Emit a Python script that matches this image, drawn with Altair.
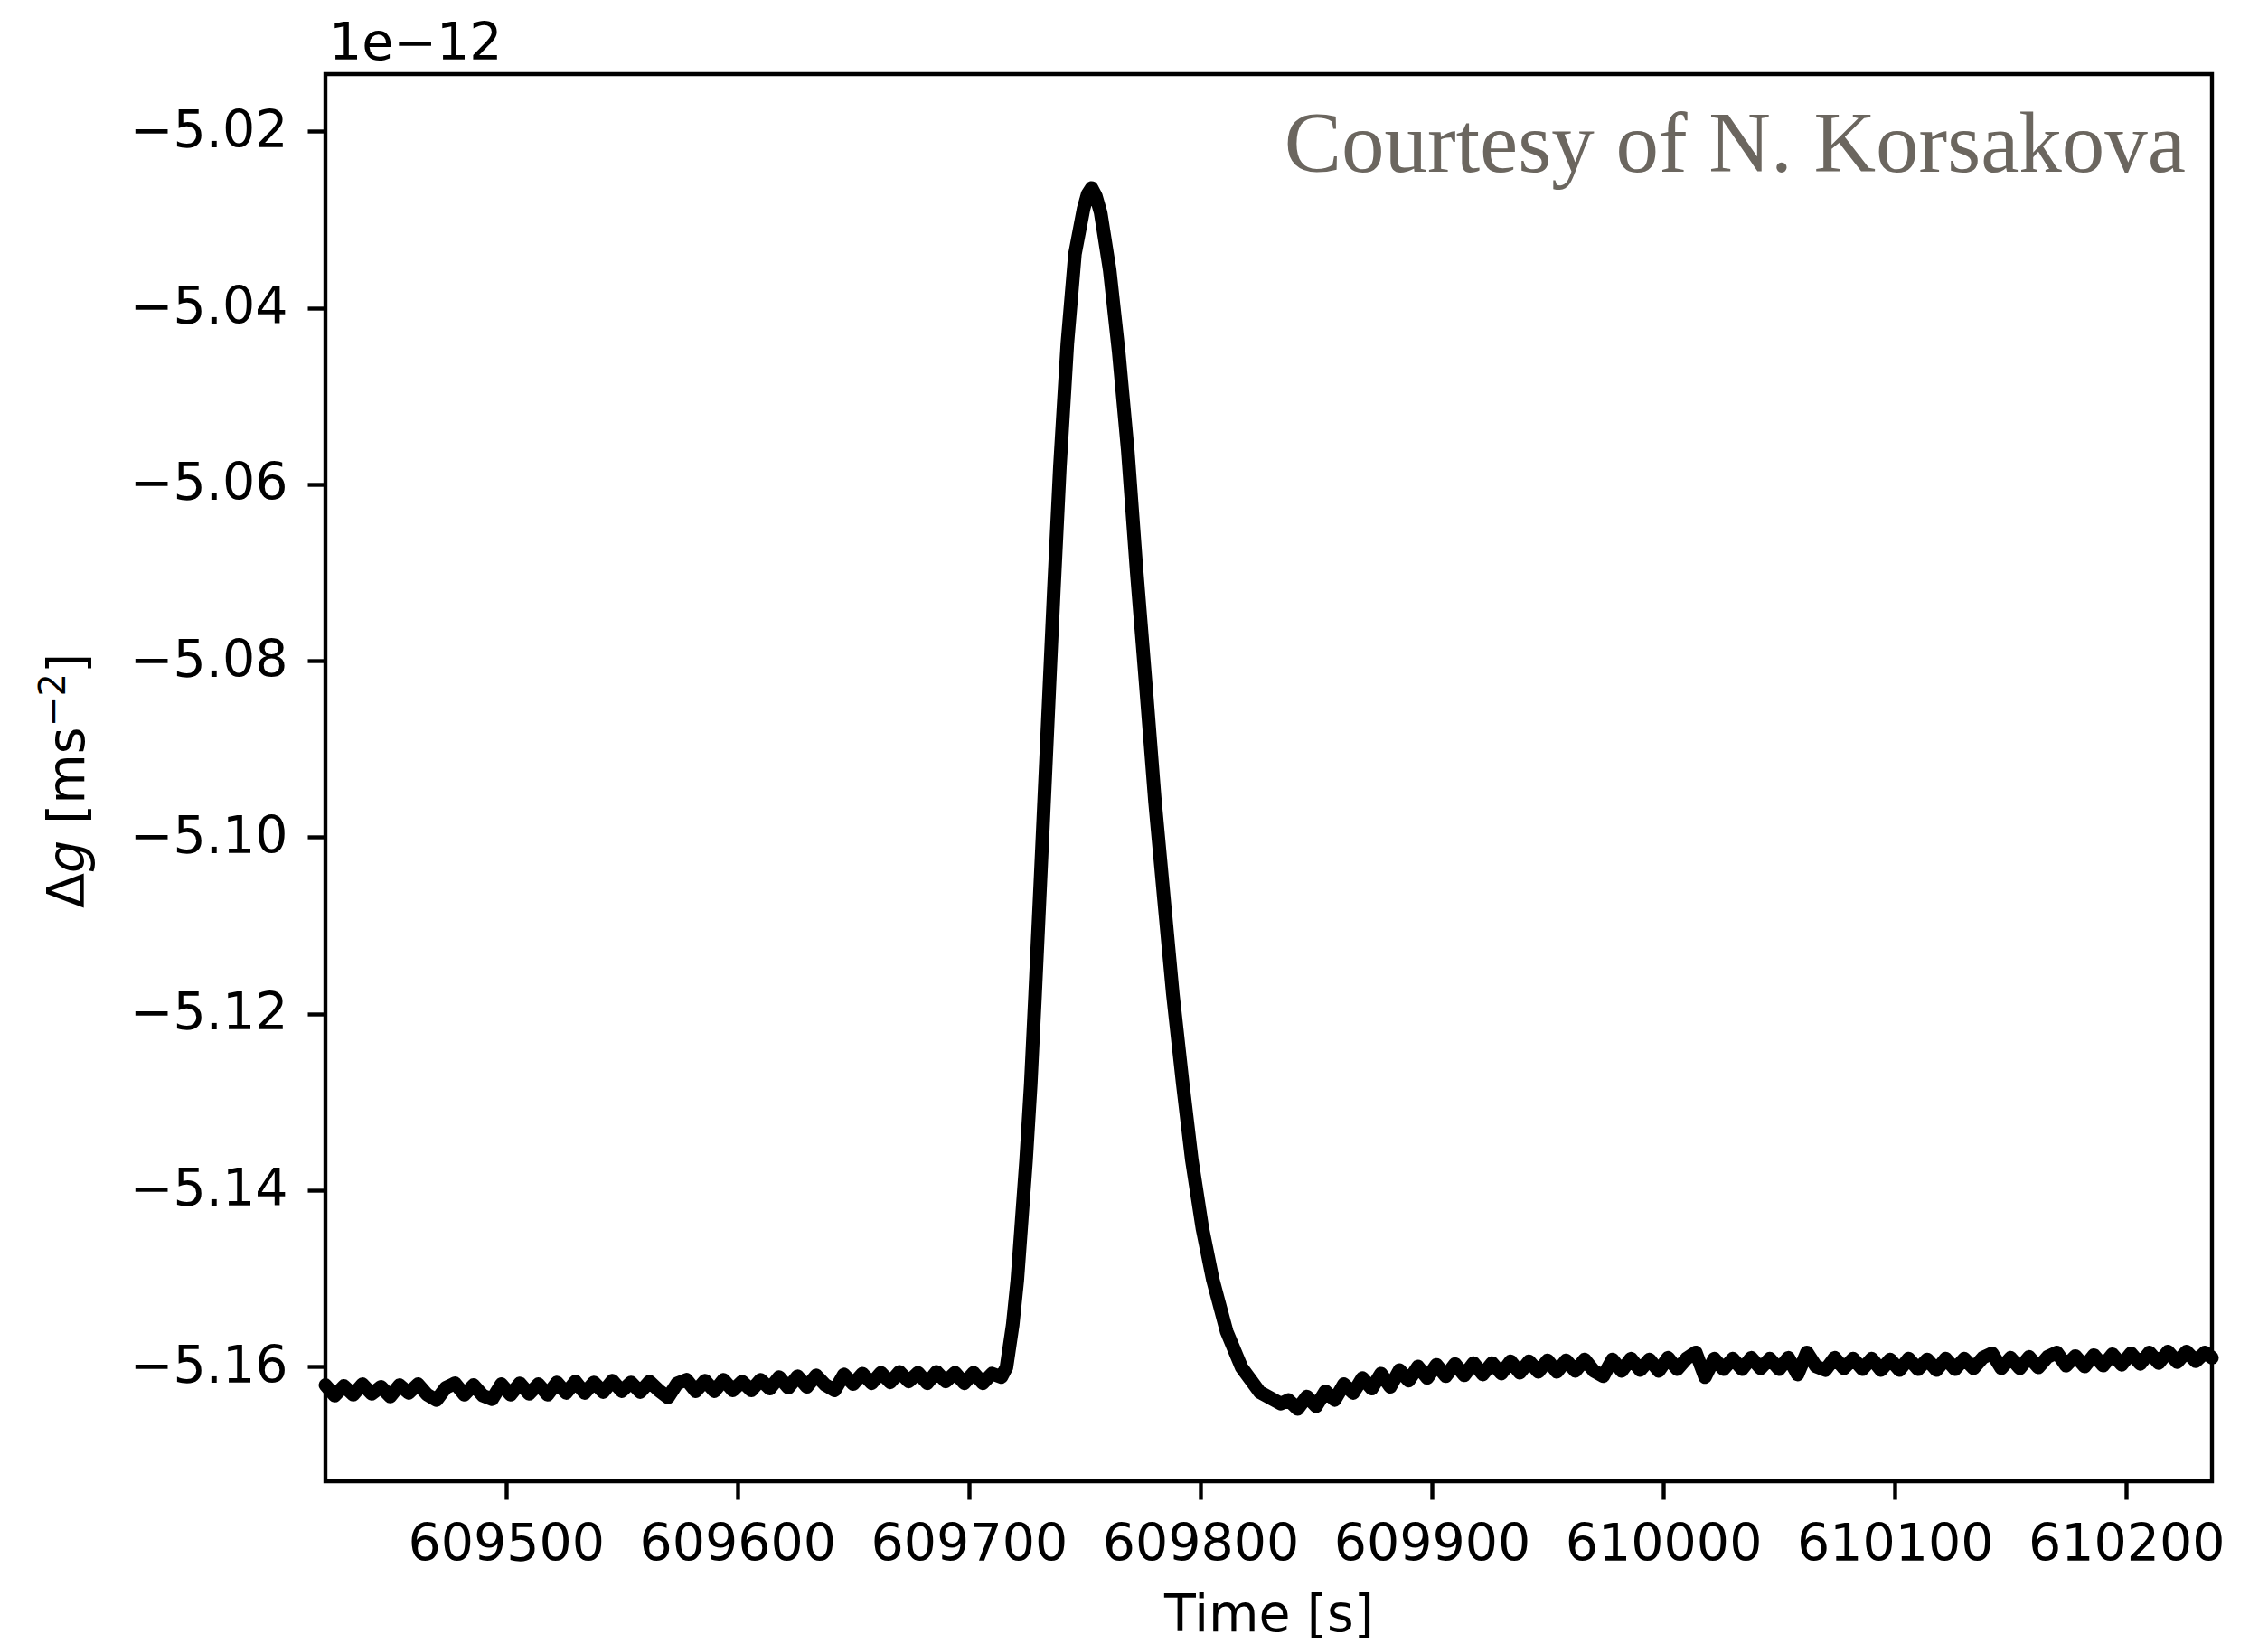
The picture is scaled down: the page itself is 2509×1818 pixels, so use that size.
import altair as alt
import pandas as pd

# ---- data (values in units of 1e-12 m s^-2) ----
# quiet baseline before the event, sampled every 4 s from 609422 s
left_start, left_step = 609422, 4
g_left = [
    -5.1621, -5.1633, -5.1622, -5.1632, -5.1620, -5.1631, -5.1623, -5.1634, -5.1621, -5.1630,
    -5.1620, -5.1632, -5.1638, -5.1624, -5.1619, -5.1632, -5.1621, -5.1633, -5.1637, -5.1620,
    -5.1632, -5.1619, -5.1631, -5.1620, -5.1632, -5.1618, -5.1630, -5.1617, -5.1630, -5.1618,
    -5.1629, -5.1616, -5.1628, -5.1618, -5.1629, -5.1617, -5.1627, -5.1635, -5.1619, -5.1615,
    -5.1628, -5.1616, -5.1628, -5.1615, -5.1627, -5.1617, -5.1627, -5.1615, -5.1625, -5.1612,
    -5.1624, -5.1611, -5.1623, -5.1610, -5.1621, -5.1627, -5.1609, -5.1620, -5.1608, -5.1619,
    -5.1607, -5.1618, -5.1606, -5.1617, -5.1607, -5.1619, -5.1606, -5.1617, -5.1607, -5.1619,
    -5.1607, -5.1619, -5.1608, -5.1612,
]

# the transient (peak) read point by point
t_peak = [609716.2, 609718.9, 609720.9, 609722.8, 609724.7, 609726.7, 609728.6, 609731.5,
          609734.1, 609736.7, 609739.3, 609742.5, 609745.8, 609749.5, 609751.3, 609753.0,
          609754.8, 609756.9, 609760.8, 609764.7, 609768.6, 609772.5, 609776.5, 609780.4,
          609784.3, 609788.1, 609792.4, 609796.3, 609800.9, 609805.4, 609811.3, 609817.8,
          609825.6, 609834.7]
g_peak = [-5.1601, -5.1553, -5.1502, -5.1434, -5.1366, -5.1280, -5.1178, -5.1015,
          -5.0867, -5.0719, -5.0580, -5.0441, -5.0339, -5.0288, -5.0271, -5.0264,
          -5.0273, -5.0292, -5.0357, -5.0450, -5.0561, -5.0700, -5.0830, -5.0960,
          -5.1071, -5.1178, -5.1280, -5.1366, -5.1444, -5.1502, -5.1560, -5.1601,
          -5.1629, -5.1642]

# recovery and baseline after the event, sampled every 4 s from 609838 s
right_start, right_step = 609838, 4
g_right = [
    -5.1638, -5.1648, -5.1634, -5.1645, -5.1628, -5.1638, -5.1620, -5.1630, -5.1613, -5.1625,
    -5.1608, -5.1623, -5.1604, -5.1616, -5.1600, -5.1613, -5.1598, -5.1611, -5.1597, -5.1610,
    -5.1596, -5.1609, -5.1596, -5.1608, -5.1594, -5.1607, -5.1594, -5.1606, -5.1593, -5.1606,
    -5.1593, -5.1605, -5.1592, -5.1605, -5.1611, -5.1592, -5.1605, -5.1591, -5.1604, -5.1592,
    -5.1605, -5.1590, -5.1603, -5.1591, -5.1584, -5.1612, -5.1591, -5.1603, -5.1591, -5.1603,
    -5.1590, -5.1602, -5.1591, -5.1603, -5.1590, -5.1609, -5.1584, -5.1600, -5.1604, -5.1590,
    -5.1602, -5.1591, -5.1603, -5.1591, -5.1604, -5.1592, -5.1604, -5.1591, -5.1603, -5.1592,
    -5.1604, -5.1591, -5.1603, -5.1591, -5.1602, -5.1590, -5.1585, -5.1602, -5.1590, -5.1602,
    -5.1589, -5.1601, -5.1589, -5.1584, -5.1599, -5.1588, -5.1600, -5.1587, -5.1599, -5.1586,
    -5.1598, -5.1585, -5.1597, -5.1584, -5.1596, -5.1583, -5.1595, -5.1583, -5.1594, -5.1584,
]
t_end, g_end = 610237, -5.1590

x_ticks = [609500, 609600, 609700, 609800, 609900, 610000, 610100, 610200]
y_ticks = [-5.16, -5.14, -5.12, -5.10, -5.08, -5.06, -5.04, -5.02]
x_domain = [609422, 610237]
y_domain = [-5.1730, -5.0135]

# y-axis title pieces: text, font size, italic?
ytitle_text = ["Δ", "g", "[ms", "−2", "]"]
ytitle_size = [57, 57, 57, 40, 57]
ytitle_style = ["normal", "italic", "normal", "normal", "normal"]

t_left = [left_start + left_step * i for i in range(len(g_left))]
t_right = [right_start + right_step * i for i in range(len(g_right))]
df = pd.DataFrame({
    "t": t_left + t_peak + t_right + [t_end],
    "g": g_left + g_peak + g_right + [g_end],
}).sort_values("t")

FONT = "DejaVu Sans"
FS = 57

line = alt.Chart(df).mark_line(
    color="black", strokeWidth=15, strokeJoin="round", strokeCap="round"
).encode(
    x=alt.X("t:Q",
            scale=alt.Scale(domain=x_domain, zero=False, nice=False),
            axis=alt.Axis(values=x_ticks, format="d", title="Time [s]",
                          labelPadding=22, labelFlush=False, labelOverlap=False,
                          labelLimit=0,
                          titleY=165, titleBaseline="alphabetic")),
    y=alt.Y("g:Q",
            scale=alt.Scale(domain=y_domain, zero=False, nice=False),
            axis=alt.Axis(values=y_ticks, format=".2f", title="",
                          labelPadding=22, labelOverlap=False, labelLimit=0)),
)


def ytitle_piece(i, ypos, xpos):
    return alt.Chart(pd.DataFrame({"s": [ytitle_text[i]]})).mark_text(
        align="left", baseline="alphabetic", angle=270, font=FONT,
        fontSize=ytitle_size[i], fontStyle=ytitle_style[i], color="black"
    ).encode(x=alt.value(xpos), y=alt.value(ypos), text="s:N")


ytitle = [
    ytitle_piece(0, 923, -267),
    ytitle_piece(1, 884, -267),
    ytitle_piece(2, 830, -267),
    ytitle_piece(3, 722, -288),
    ytitle_piece(4, 663, -267),
]

offset = alt.Chart(pd.DataFrame({"s": ["1e−12"]})).mark_text(
    align="left", baseline="alphabetic", font=FONT, fontSize=FS, color="black"
).encode(x=alt.value(4), y=alt.value(-16), text="s:N")

credit = alt.Chart(pd.DataFrame({"s": ["Courtesy of N. Korsakova"]})).mark_text(
    align="right", baseline="alphabetic", font="Liberation Serif", fontSize=95, color="#6b665f"
).encode(x=alt.value(2058), y=alt.value(108), text="s:N")

chart = alt.layer(line, offset, credit, *ytitle).properties(
    width=2087, height=1557,
    autosize="none",
    padding={"left": 360, "top": 82, "right": 62, "bottom": 179},
    background="white",
).configure_view(
    stroke="black", strokeWidth=4.4
).configure_axis(
    domain=False, grid=False,
    ticks=True, tickColor="black", tickWidth=4.4, tickSize=20,
    labelFont=FONT, labelFontSize=FS, labelColor="black",
    titleFont=FONT, titleFontSize=FS, titleFontWeight="normal", titleColor="black",
)

chart.save("out.html", embed_options={"renderer": "svg", "actions": False})
